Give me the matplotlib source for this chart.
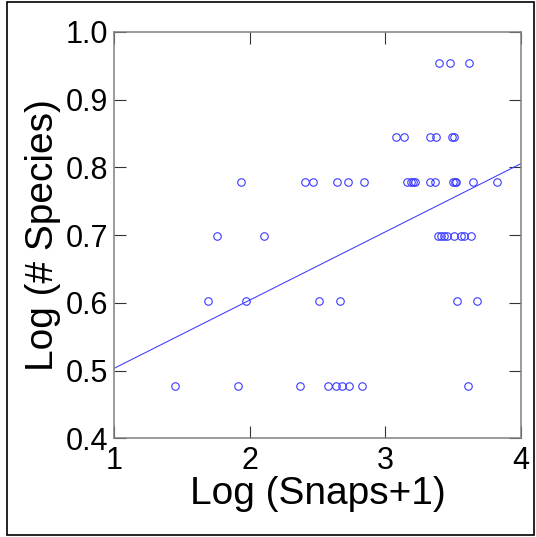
import numpy as np
import matplotlib
matplotlib.use('Agg')
import matplotlib.pyplot as plt
from matplotlib.patches import Rectangle

plt.rcParams['font.family'] = ['Liberation Sans', 'DejaVu Sans']

# log(snaps+1) for each level of log(# species)
x_954 = [3.400, 3.474, 3.615]
x_845 = [3.077, 3.141, 3.328, 3.378, 3.494, 3.506]
x_778 = [1.936, 2.405, 2.464, 2.642, 2.723, 2.842, 3.158, 3.188, 3.206,
         3.218, 3.328, 3.366, 3.500, 3.512, 3.523, 3.650, 3.824]
x_699 = [1.758, 2.104, 3.389, 3.414, 3.431, 3.456, 3.505, 3.562, 3.579, 3.631]
x_602 = [1.691, 1.970, 2.509, 2.667, 3.528, 3.677]
x_477 = [1.452, 1.914, 2.371, 2.580, 2.638, 2.684, 2.731, 2.831, 3.610]

levels = {0.954: x_954, 0.845: x_845, 0.778: x_778,
          0.699: x_699, 0.602: x_602, 0.477: x_477}

# fitted line
fit_slope = 0.1007
fit_intercept = 0.4025

xticks = [1, 2, 3, 4]
yticks = [0.4, 0.5, 0.6, 0.7, 0.8, 0.9, 1.0]

blue = '#3a3aff'

fig = plt.figure(figsize=(5.36, 5.37), dpi=100)
ax = fig.add_axes([0.2127, 0.1838, 0.759, 0.757])

xs = []
ys = []
for lev, vals in levels.items():
    xs += vals
    ys += [lev] * len(vals)

ax.plot(xs, ys, 'o', mfc='none', mec=blue, ms=5.4, mew=0.8)

lx = np.array([1, 4])
ax.plot(lx, fit_intercept + fit_slope * lx, color=blue, lw=0.75)

ax.set_xlim(1, 4)
ax.set_ylim(0.4, 1.0)
ax.set_xticks(xticks)
ax.set_xticklabels([str(t) for t in xticks])
ax.set_yticks(yticks)
ax.set_yticklabels(['%.1f' % t for t in yticks])

ax.tick_params(direction='in', length=8.3, width=0.8, color='#333333',
               top=True, right=True, labelsize=22)
ax.tick_params(axis='x', pad=5.8)
ax.tick_params(axis='y', pad=4.3)

for s in ax.spines.values():
    s.set_color('#808080')
    s.set_linewidth(1.1)

ax.set_xlabel('Log (Snaps+1)', fontsize=28, labelpad=0)
ax.set_ylabel('Log (# Species)', fontsize=28, labelpad=3)

fig.patches.append(Rectangle((7 / 536, 2 / 537), 527 / 536, 533 / 537,
                             transform=fig.transFigure, fill=False,
                             edgecolor='black', lw=1.2))

fig.savefig('out.png', dpi=100)
